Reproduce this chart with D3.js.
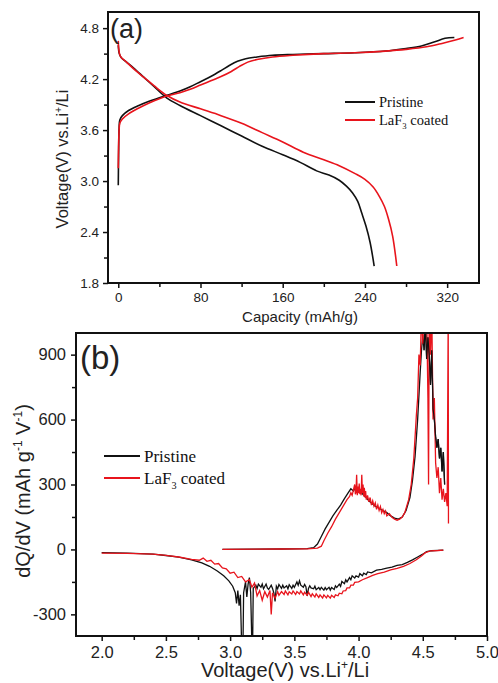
<!DOCTYPE html>
<html>
<head>
<meta charset="utf-8">
<script src="https://cdn.jsdelivr.net/npm/d3@7"></script>
<style>
body { margin: 0; background: #fff; }
text { font-family: "Liberation Sans", Arial, sans-serif; fill: #222; }
.serif { font-family: "Liberation Serif", "Times New Roman", serif; fill: #111; }
</style>
</head>
<body>
<script>
// ---- panel (a): [capacity mAh/g, voltage V] ----
var chargePristineA = [[0,2.95],[0.3,3.3],[0.8,3.62],[1.5,3.72],[4,3.77],[10,3.83],[20,3.89],[30,3.94],[40,3.98],[50,4.02],[60,4.06],[70,4.11],[80,4.17],[90,4.23],[100,4.30],[108,4.36],[116,4.41],[124,4.44],[135,4.46],[150,4.48],[170,4.49],[200,4.50],[230,4.51],[260,4.53],[280,4.56],[295,4.59],[308,4.64],[318,4.68],[327,4.69]];
var chargeCoatedA = [[0,3.15],[0.3,3.4],[0.8,3.6],[1.5,3.68],[4,3.73],[10,3.79],[20,3.86],[30,3.92],[40,3.97],[50,4.01],[60,4.04],[70,4.08],[80,4.13],[90,4.18],[100,4.23],[110,4.29],[118,4.35],[126,4.40],[135,4.43],[150,4.46],[170,4.48],[200,4.50],[230,4.51],[260,4.53],[280,4.55],[300,4.58],[315,4.62],[328,4.66],[336,4.69]];
var dischargePristineA = [[0,4.6],[1,4.5],[3,4.45],[8,4.40],[15,4.33],[25,4.22],[35,4.11],[47,3.98],[60,3.89],[80,3.77],[100,3.65],[120,3.53],[140,3.41],[160,3.31],[177,3.22],[193,3.12],[205,3.07],[215,3.01],[222,2.94],[228,2.86],[233,2.76],[237,2.62],[241,2.47],[245,2.28],[249,2.0]];
var dischargeCoatedA = [[0,4.65],[0.5,4.55],[2,4.47],[8,4.40],[15,4.32],[25,4.22],[35,4.12],[47,4.01],[60,3.93],[80,3.85],[100,3.77],[120,3.68],[140,3.57],[160,3.46],[180,3.34],[200,3.25],[215,3.18],[230,3.09],[240,3.02],[248,2.93],[254,2.82],[259,2.70],[263,2.55],[267,2.35],[271,2.0]];
var xTicksA = [0, 80, 160, 240, 320];
var xMinorA = [40, 120, 200, 280];
var yTicksA = [1.8, 2.4, 3.0, 3.6, 4.2, 4.8];
var yMinorA = [2.1, 2.7, 3.3, 3.9, 4.5];

// ---- panel (b): [voltage V, dQ/dV] ----
var chargePristineB = [[2.94,0],[3.2,1],[3.4,2],[3.6,4],[3.65,8],[3.68,25],[3.71,60],[3.74,95],[3.77,125],[3.80,155],[3.83,180],[3.86,205],[3.89,235],[3.92,262],[3.94,280],[3.96,270],[3.98,290],[4.00,275],[4.02,265],[4.04,250],[4.06,240],[4.08,225],[4.10,215],[4.13,200],[4.16,190],[4.19,180],[4.22,170],[4.25,155],[4.28,145],[4.31,140],[4.34,150],[4.37,180],[4.40,240],[4.42,320],[4.44,430],[4.46,600],[4.48,820],[4.49,920],[4.50,990],[4.51,920],[4.52,1050],[4.53,880],[4.54,980],[4.55,900],[4.56,760],[4.57,920],[4.58,650],[4.59,600],[4.60,520],[4.61,470],[4.62,510],[4.63,420],[4.64,470],[4.65,360],[4.66,450],[4.67,300]];
var chargeCoatedB = [[2.94,0],[3.2,1],[3.4,2],[3.6,3],[3.68,6],[3.71,15],[3.73,40],[3.76,75],[3.79,105],[3.82,140],[3.85,170],[3.88,200],[3.91,230],[3.93,245],[3.94,262],[3.95,250],[3.96,275],[3.97,300],[3.975,255],[3.98,265],[3.985,345],[3.99,250],[3.995,290],[4.00,260],[4.005,305],[4.01,255],[4.015,280],[4.02,250],[4.025,345],[4.03,260],[4.035,300],[4.04,245],[4.045,285],[4.05,240],[4.055,270],[4.06,230],[4.07,250],[4.08,220],[4.09,240],[4.10,205],[4.11,225],[4.12,200],[4.13,215],[4.14,185],[4.15,205],[4.16,180],[4.17,198],[4.18,170],[4.19,185],[4.20,165],[4.21,178],[4.22,155],[4.24,165],[4.26,148],[4.28,140],[4.30,135],[4.32,140],[4.34,150],[4.36,170],[4.39,230],[4.41,300],[4.43,420],[4.45,620],[4.46,700],[4.47,900],[4.48,850],[4.49,1100],[4.50,950],[4.51,1100],[4.52,1000],[4.53,1100],[4.54,700],[4.545,300],[4.55,1100],[4.56,900],[4.57,1100],[4.58,600],[4.59,700],[4.60,400],[4.61,330],[4.62,380],[4.63,260],[4.64,330],[4.65,230],[4.66,280],[4.67,220],[4.68,260],[4.69,200],[4.698,1100],[4.70,120]];
var dischargePristineB = [[2.0,-15],[2.2,-17],[2.4,-22],[2.5,-28],[2.6,-36],[2.7,-48],[2.78,-62],[2.84,-78],[2.9,-100],[2.95,-122],[2.99,-145],[3.02,-170],[3.04,-200],[3.05,-250],[3.06,-190],[3.07,-260],[3.08,-210],[3.09,-450],[3.10,-450],[3.105,-200],[3.12,-150],[3.13,-220],[3.14,-160],[3.15,-130],[3.16,-200],[3.17,-450],[3.175,-450],[3.18,-180],[3.20,-165],[3.21,-180],[3.22,-160],[3.24,-175],[3.25,-160],[3.26,-182],[3.28,-160],[3.29,-178],[3.30,-185],[3.32,-165],[3.33,-180],[3.34,-200],[3.35,-240],[3.36,-170],[3.37,-182],[3.38,-162],[3.40,-180],[3.41,-165],[3.42,-178],[3.44,-168],[3.45,-182],[3.46,-163],[3.48,-180],[3.49,-165],[3.50,-175],[3.52,-150],[3.53,-165],[3.54,-145],[3.55,-165],[3.57,-175],[3.58,-162],[3.59,-172],[3.60,-215],[3.61,-180],[3.62,-168],[3.63,-178],[3.65,-182],[3.66,-170],[3.67,-186],[3.69,-176],[3.70,-186],[3.71,-175],[3.73,-188],[3.74,-176],[3.75,-186],[3.77,-175],[3.78,-188],[3.79,-176],[3.81,-185],[3.82,-168],[3.83,-176],[3.85,-160],[3.86,-170],[3.87,-148],[3.89,-158],[3.90,-140],[3.91,-150],[3.93,-130],[3.94,-140],[3.95,-122],[3.97,-132],[3.98,-122],[4.00,-128],[4.01,-112],[4.03,-122],[4.04,-110],[4.06,-116],[4.07,-104],[4.10,-108],[4.14,-96],[4.18,-92],[4.22,-86],[4.26,-82],[4.30,-74],[4.34,-70],[4.38,-60],[4.42,-48],[4.46,-35],[4.50,-22],[4.53,-10],[4.57,-6],[4.62,-4],[4.66,-3]];
var dischargeCoatedB = [[2.0,-17],[2.2,-18],[2.4,-22],[2.5,-27],[2.6,-35],[2.7,-46],[2.76,-50],[2.79,-40],[2.82,-55],[2.85,-50],[2.88,-68],[2.91,-65],[2.94,-85],[2.97,-90],[3.00,-110],[3.03,-105],[3.06,-130],[3.09,-125],[3.12,-150],[3.15,-140],[3.17,-175],[3.19,-155],[3.21,-215],[3.23,-190],[3.25,-235],[3.27,-195],[3.29,-220],[3.31,-190],[3.32,-300],[3.33,-200],[3.35,-225],[3.37,-195],[3.38,-212],[3.40,-195],[3.42,-208],[3.43,-192],[3.45,-210],[3.46,-196],[3.48,-206],[3.49,-192],[3.51,-208],[3.52,-195],[3.54,-206],[3.55,-192],[3.57,-210],[3.58,-198],[3.60,-212],[3.61,-198],[3.63,-218],[3.64,-205],[3.66,-220],[3.67,-205],[3.69,-222],[3.70,-210],[3.72,-224],[3.73,-210],[3.75,-224],[3.76,-212],[3.78,-225],[3.79,-212],[3.81,-222],[3.82,-210],[3.84,-214],[3.85,-202],[3.87,-205],[3.88,-192],[3.90,-190],[3.91,-178],[3.93,-178],[3.94,-165],[3.96,-165],[3.97,-152],[4.00,-150],[4.03,-140],[4.07,-130],[4.11,-120],[4.15,-112],[4.20,-105],[4.25,-95],[4.30,-88],[4.35,-78],[4.40,-65],[4.45,-48],[4.49,-30],[4.52,-15],[4.56,-7],[4.62,-5],[4.66,-3]];
var xTicksB = [2.0, 2.5, 3.0, 3.5, 4.0, 4.5, 5.0];
var xMinorB = [2.25, 2.75, 3.25, 3.75, 4.25, 4.75];
var yTicksB = [-300, 0, 300, 600, 900];
var yMinorB = [-150, 150, 450, 750];

var svg = d3.select("body").append("svg")
    .attr("width", 498)
    .attr("height", 683);

// draws frame + outward ticks for one panel
function drawAxes(g, x, y, o) {
    var bottom = y.range()[0], left = x.range()[0];
    g.append("g")
        .attr("transform", "translate(0," + bottom + ")")
        .call(d3.axisBottom(x).tickValues(o.xMinor).tickSize(4).tickFormat(""))
        .call(function (s) { s.select(".domain").remove(); });
    g.append("g")
        .attr("transform", "translate(" + left + ",0)")
        .call(d3.axisLeft(y).tickValues(o.yMinor).tickSize(4).tickFormat(""))
        .call(function (s) { s.select(".domain").remove(); });
    var xa = g.append("g")
        .attr("transform", "translate(0," + bottom + ")")
        .call(d3.axisBottom(x).tickValues(o.xTicks).tickSize(5).tickPadding(o.pad).tickFormat(o.xFmt));
    var ya = g.append("g")
        .attr("transform", "translate(" + left + ",0)")
        .call(d3.axisLeft(y).tickValues(o.yTicks).tickSize(5).tickPadding(o.pad).tickFormat(o.yFmt));
    [xa, ya].forEach(function (a) {
        a.select(".domain").remove();
        a.selectAll("text").style("font-size", o.font + "px").attr("fill", "#333");
    });
    g.selectAll(".tick line").attr("stroke", "#111").attr("stroke-width", 1.5);
    g.append("rect")
        .attr("x", x.range()[0]).attr("y", y.range()[1])
        .attr("width", x.range()[1] - x.range()[0])
        .attr("height", y.range()[0] - y.range()[1])
        .attr("fill", "none").attr("stroke", "#111").attr("stroke-width", 2);
}

function legend(g, x0, y0, gap, len, size) {
    var items = [["Pristine", "#111"], ["LaF", "#e8141c"]];
    items.forEach(function (d, i) {
        var yy = y0 + i * gap;
        g.append("line").attr("x1", x0).attr("x2", x0 + len)
            .attr("y1", yy).attr("y2", yy)
            .attr("stroke", d[1]).attr("stroke-width", 2);
        var t = g.append("text").attr("class", "serif")
            .attr("x", x0 + len + 4).attr("y", yy + size * 0.35)
            .style("font-size", size + "px");
        t.append("tspan").text(d[0]);
        if (i == 1) {
            t.append("tspan").attr("dy", size * 0.3).style("font-size", (size * 0.6) + "px").text("3");
            t.append("tspan").attr("dy", -size * 0.3).text(" coated");
        }
    });
}

var hyphenInt = function (d) { return String(d); };

// ---------- panel (a) ----------
var xA = d3.scaleLinear().domain([-10, 351]).range([108, 479]);
var yA = d3.scaleLinear().domain([1.8, 4.99]).range([283, 12]);
var gA = svg.append("g");
var lineAd = d3.line().x(function (d) { return xA(d[0]); }).y(function (d) { return yA(d[1]); }).curve(d3.curveCatmullRom);

[[chargePristineA, "#111"], [dischargePristineA, "#111"], [chargeCoatedA, "#e8141c"], [dischargeCoatedA, "#e8141c"]].forEach(function (s) {
    gA.append("path").attr("d", lineAd(s[0]))
        .attr("fill", "none").attr("stroke", s[1]).attr("stroke-width", 1.6);
});

drawAxes(gA, xA, yA, {
    xTicks: xTicksA, xMinor: xMinorA, yTicks: yTicksA, yMinor: yMinorA,
    xFmt: hyphenInt, yFmt: d3.format(".1f"), font: 13.5, pad: 4
});
gA.append("text").attr("x", 110).attr("y", 38).style("font-size", "27px").attr("fill", "#111").text("(a)");
legend(gA, 345, 102, 18, 30, 14.5);

gA.append("text").attr("x", 300).attr("y", 322).attr("text-anchor", "middle")
    .style("font-size", "15px").attr("fill", "#222").text("Capacity (mAh/g)");
var ylA = gA.append("text").attr("transform", "translate(68,159) rotate(-90)")
    .attr("text-anchor", "middle").style("font-size", "16.5px").attr("fill", "#222");
ylA.append("tspan").text("Voltage(V) vs.Li");
ylA.append("tspan").attr("dy", -6).style("font-size", "10px").text("+");
ylA.append("tspan").attr("dy", 6).text("/Li");

// ---------- panel (b) ----------
var xB = d3.scaleLinear().domain([1.8, 5.0]).range([76, 487]);
var yB = d3.scaleLinear().domain([-400, 1000]).range([636, 333]);
var gB = svg.append("g");
gB.append("clipPath").attr("id", "clipB").append("rect")
    .attr("x", 76).attr("y", 333).attr("width", 411).attr("height", 303);
var lineB = d3.line().x(function (d) { return xB(d[0]); }).y(function (d) { return yB(d[1]); });
var curves = gB.append("g").attr("clip-path", "url(#clipB)");
[[dischargePristineB, "#111"], [chargePristineB, "#111"], [dischargeCoatedB, "#e8141c"], [chargeCoatedB, "#e8141c"]].forEach(function (s) {
    curves.append("path").attr("d", lineB(s[0]))
        .attr("fill", "none").attr("stroke", s[1]).attr("stroke-width", 1.3);
});
// pristine peak tail drawn on top again near 4.5 V
curves.append("path").attr("d", lineB(chargePristineB.filter(function (d) { return d[0] > 4.5; })))
    .attr("fill", "none").attr("stroke", "#111").attr("stroke-width", 1.1);

drawAxes(gB, xB, yB, {
    xTicks: xTicksB, xMinor: xMinorB, yTicks: yTicksB, yMinor: yMinorB,
    xFmt: d3.format(".1f"), yFmt: hyphenInt, font: 16.5, pad: 5
});
gB.append("text").attr("x", 80).attr("y", 369).style("font-size", "33px").attr("fill", "#111").text("(b)");
legend(gB, 104, 456, 22, 36, 17);

var xlB = gB.append("text").attr("x", 285).attr("y", 677).attr("text-anchor", "middle")
    .style("font-size", "20px").attr("fill", "#222");
xlB.append("tspan").text("Voltage(V) vs.Li");
xlB.append("tspan").attr("dy", -8).style("font-size", "12px").text("+");
xlB.append("tspan").attr("dy", 8).text("/Li");

var ylB = gB.append("text").attr("transform", "translate(30,491) rotate(-90)")
    .attr("text-anchor", "middle").style("font-size", "20px").attr("fill", "#222");
ylB.append("tspan").text("dQ/dV (mAh g");
ylB.append("tspan").attr("dy", -8).style("font-size", "12px").text("-1");
ylB.append("tspan").attr("dy", 8).text(" V");
ylB.append("tspan").attr("dy", -8).style("font-size", "12px").text("-1");
ylB.append("tspan").attr("dy", 8).text(")");
</script>
</body>
</html>
